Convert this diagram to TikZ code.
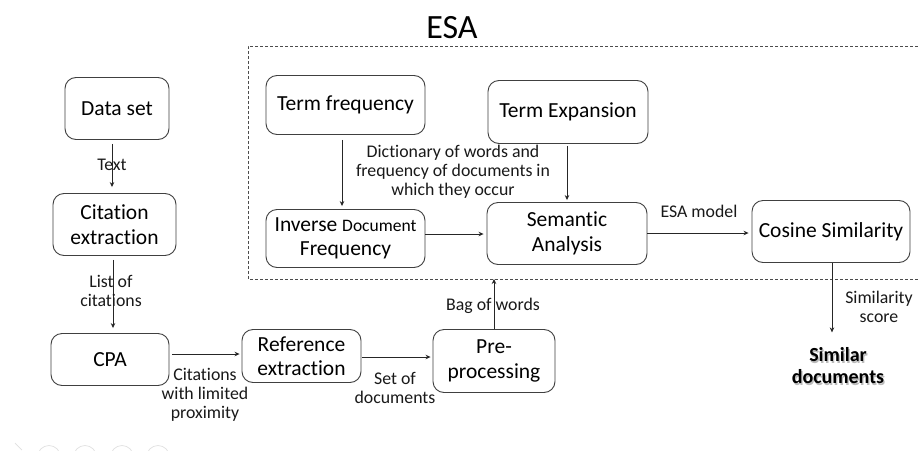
\documentclass[tikz,border=0pt]{standalone}
\usepackage{fontspec}
\setmainfont{Carlito}[RawFeature={-liga;-calt;-dlig;-clig}]
\usetikzlibrary{arrows.meta,calc}

\tikzset{
  box/.style={draw=black!75, line width=0.9pt, rounded corners=11pt, align=center,
              inner sep=2pt, font=\fontsize{21.5}{24.5}\selectfont, text=black},
  lbl/.style={align=center, font=\fontsize{17.8}{19}\selectfont, text=black!90, inner sep=0pt},
  arr/.style={draw=black!85, line width=0.8pt, -{Stealth[length=5pt,width=4.5pt]}},
  esaframe/.style={draw=black!70, line width=0.9pt, dash pattern=on 3pt off 2pt},
  ghost/.style={draw=black!12, line width=0.7pt}
}

\begin{document}
\begin{tikzpicture}[x=1pt, y=-1pt]
  \useasboundingbox (0,0) rectangle (918,450);
  \fill[white] (0,0) rectangle (918,450);

  % title and dashed ESA frame (open on the right)
  \node[anchor=base, font=\fontsize{34}{40}\selectfont, text=black] (esa) at (452,38) {ESA};
  \draw[esaframe] (918,46) -- (248,46) -- (248,279) -- (918,279);
  \coordinate (esabot) at (494,279);

  % pipeline boxes
  \node[box, minimum width=104pt, minimum height=62pt] (data) at (117,108.5) {Data set};
  \node[box, minimum width=123pt, minimum height=62pt] (cite) at (114.5,224.5) {Citation\\extraction};
  \node[box, minimum width=118pt, minimum height=52pt] (cpa)  at (110,359.5) {CPA};
  \node[box, minimum width=119pt, minimum height=53pt] (ref)  at (301.5,356) {Reference\\extraction};
  \node[box, minimum width=122pt, minimum height=63pt] (pre)  at (494,361) {Pre-\\processing};

  % ESA components
  \node[box, minimum width=159pt, minimum height=59pt] (tf)  at (345.5,105) {Term frequency};
  \node[box, minimum width=160pt, minimum height=63pt] (te)  at (568,112) {Term Expansion};
  \node[box, minimum width=159pt, minimum height=58pt] (idf) at (345.5,238.5)
       {Inverse {\fontsize{17.5}{19}\selectfont Document}\\Frequency};
  \node[box, minimum width=160pt, minimum height=62pt] (sa)  at (567,233.5) {Semantic\\Analysis};
  \node[box, minimum width=158pt, minimum height=62pt] (cs)  at (831,231.5) {Cosine Similarity};

  % result
  \node[align=center, font=\bfseries\fontsize{20}{22}\selectfont, text=black!45, opacity=0.6]
       at (839.2,367.2) {Similar\\documents};
  \node[align=center, font=\bfseries\fontsize{20}{22}\selectfont, text=black] (sim)
       at (838,366) {Similar\\documents};

  % connectors
  \draw[arr, shorten <=4pt, shorten >=6pt] (data.south -| 112,0) -- (cite.north -| 112,0);
  \draw[arr, shorten <=4pt, shorten >=5pt] (cite.south -| 113,0) -- (cpa.north -| 113,0);
  \draw[arr, shorten <=3pt, shorten >=2pt] (cpa.east |- 0,354) -- (ref.west |- 0,354);
  \draw[arr, shorten <=1pt, shorten >=2pt] (ref.east |- 0,357) -- (pre.west |- 0,357);
  \draw[arr] (pre.north) -- (esabot);
  \draw[arr, shorten <=5pt, shorten >=3pt] (tf.south -| 342,0) -- (idf.north -| 342,0);
  \draw[arr, shorten <=2pt, shorten >=2pt] (te.south -| 567,0) -- (sa.north -| 567,0);
  \draw[arr, shorten >=3pt] (idf.east |- 0,234) -- (sa.west |- 0,234);
  \draw[arr, shorten >=3pt] (sa.east |- 0,233) -- (cs.west |- 0,233);
  \draw[arr, shorten >=12pt] (cs.south -| 832,0) -- (sim.north -| 832,0);

  % connector labels
  \node[lbl] (lText) at (112,165) {Text};
  \node[lbl] (lList) at (111,291) {List of\\citations};
  \node[lbl] (lProx) at (205,395) {Citations\\with limited\\proximity};
  \node[lbl] (lSet)  at (395,388) {Set of\\documents};
  \node[lbl] (lBag)  at (493,306) {Bag of words};
  \node[lbl] (lDict) at (453,172) {Dictionary of words and\\frequency of documents in\\which they occur};
  \node[lbl] (lModel) at (699,211) {ESA model};
  \node[lbl] (lScore) at (879,307) {Similarity\\score};

  % faint round marks along the lower left edge
  \begin{scope}
    \clip (0,0) rectangle (918,450);
    \foreach \cx in {49,85,122,158} \draw[ghost] (\cx,457) circle (11.5pt);
    \draw[ghost] (15,443) -- (22,450);
  \end{scope}
\end{tikzpicture}
\end{document}
